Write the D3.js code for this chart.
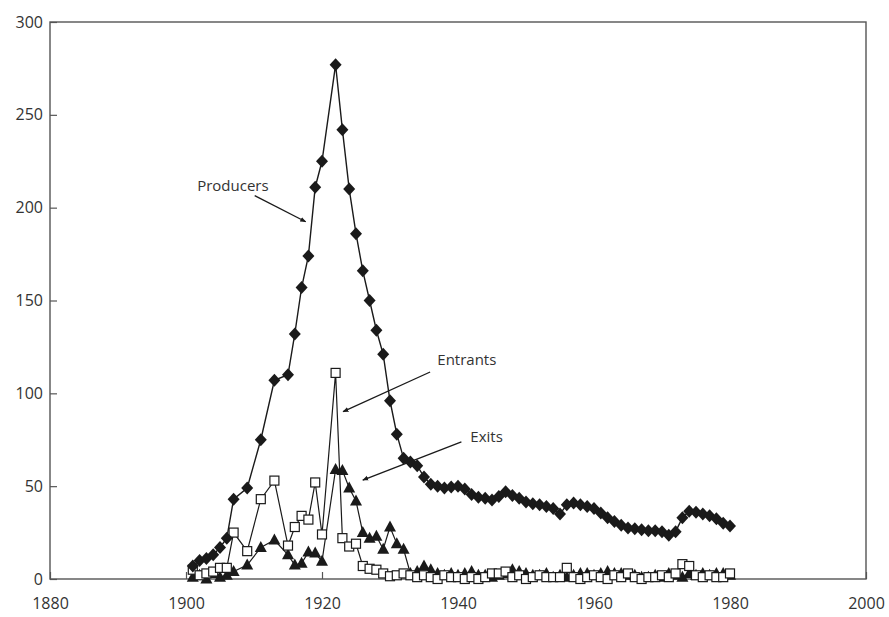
<!DOCTYPE html>
<html><head><meta charset="utf-8">
<script src="https://cdn.jsdelivr.net/npm/d3@7"></script>
<style>
body{margin:0;background:#fff}
text{font-family:"Open Sans",Lato,sans-serif;fill:#333}
</style>
</head><body>
<svg id="c" width="889" height="617"></svg>
<script>
// ---- data ----
const years = [1901,1902,1903,1904,1905,1906,1907,1909,1911,1913,1915,1916,1917,1918,1919,1920,
  1922,1923,1924,1925,1926,1927,1928,1929,1930,1931,1932,1933,1934,1935,1936,1937,1938,1939,1940,
  1941,1942,1943,1944,1945,1946,1947,1948,1949,1950,1951,1952,1953,1954,1955,1956,1957,1958,1959,1960,
  1961,1962,1963,1964,1965,1966,1967,1968,1969,1970,1971,1972,1973,1974,1975,1976,1977,1978,1979,1980];
const producers = [7,10,11,13,17,22,43,49,75,107,110,132,157,174,211,225,
  277,242,210,186,166,150,134,121,96,78,65,63,61,55,51,50,49,49.5,50,
  48.5,45.5,44,43.5,42.5,44.5,47,45,43.5,41.5,40.5,40,39,38,35,40,41,40,39,38,
  35.5,33,31,29,27.5,27,26.5,26,26,25.5,23.5,25.5,33,36.5,36,35,34,32.5,30,28.5];
const entrants = [5,2,3,4,6,6,25,15,43,53,18,28,34,32,52,24,
  111,22,17.5,19,7,5.5,5,3,1.5,2,3,2,1,2,1,0,2,1,1,
  0,1,0,1,3,3,4,1,2,0,1,2,1,1,1,6,1,0,1,2,
  1,0,2,1,3,1,0,1,1,2,1,3,8,7,2,1,2,1,1,3];
const exits = [1,2,0,3,1,2,4,7.5,17,21,13,7.5,8.5,14.5,14,9.5,
  59,58.5,49,42,25,22,23,16,28,19,16,3,4,7,5,3,2,3,2,
  3,4,2,2,1,2,3,5,4,3,2,2,3,1,2,1,2,3,3,2,
  3,4,3,3,2,2,1,1,2,1,3,2,1,3,2,3,2,3,3,2];
const xTicks = [1880,1900,1920,1940,1960,1980,2000];
const yTicks = [0,50,100,150,200,250,300];
// annotation labels: text anchor (year,value), arrow from (year,value) to (year,value)
const noteLabels = ["Producers","Entrants","Exits"];
const noteText   = [[1906.9,212],[1941.3,118],[1944.2,76.5]];
const noteFrom   = [[1910.1,206.5],[1935.9,111.5],[1940.5,73.9]];
const noteTo     = [[1917.6,192.4],[1923.1,90.1],[1926.0,53.3]];

// ---- drawing ----
const svg = d3.select("#c");
const L=50, R=866, T=22, B=579;
const x = d3.scaleLinear().domain([1880,2000]).range([L,R]);
const y = d3.scaleLinear().domain([0,300]).range([B,T]);
const ink = "#1a1a1a";

const rows = years.map((yr,i)=>({yr, p:producers[i], e:entrants[i], x:exits[i]}));

// axes
const gy = svg.append("g").attr("transform",`translate(${L},0)`)
  .call(d3.axisLeft(y).tickValues(yTicks).tickSizeInner(-7).tickSizeOuter(0).tickPadding(7));
const gx = svg.append("g").attr("transform",`translate(0,${B})`)
  .call(d3.axisBottom(x).tickValues(xTicks).tickFormat(d3.format("d")).tickSizeInner(-7).tickSizeOuter(0).tickPadding(19));
[gx,gy].forEach(g=>{
  g.select(".domain").remove();
  g.selectAll(".tick line").attr("stroke","#555").attr("stroke-width",1.2);
  g.selectAll(".tick text").style("font-size","16px").attr("fill","#333");
});

svg.append("rect").attr("x",L).attr("y",T).attr("width",R-L).attr("height",B-T)
  .attr("fill","none").attr("stroke","#555").attr("stroke-width",1.4);

const line = key => d3.line().x(d=>x(d.yr)).y(d=>y(d[key]));

// exits
svg.append("path").datum(rows).attr("d",line("x")).attr("fill","none").attr("stroke",ink).attr("stroke-width",1.2);
svg.append("g").selectAll("path").data(rows).join("path")
  .attr("d",d=>{const cx=x(d.yr), cy=y(d.x); return `M${cx},${cy-6.5}L${cx+6},${cy+4.5}L${cx-6},${cy+4.5}Z`;})
  .attr("fill",ink);

// entrants
svg.append("path").datum(rows).attr("d",line("e")).attr("fill","none").attr("stroke",ink).attr("stroke-width",1.2);
svg.append("g").selectAll("rect").data(rows).join("rect")
  .attr("x",d=>x(d.yr)-4.5).attr("y",d=>y(d.e)-4.5).attr("width",9).attr("height",9)
  .attr("fill","#fff").attr("stroke",ink).attr("stroke-width",1.2);

// producers
svg.append("path").datum(rows).attr("d",line("p")).attr("fill","none").attr("stroke",ink).attr("stroke-width",1.4);
svg.append("g").selectAll("path").data(rows).join("path")
  .attr("d",d=>{const cx=x(d.yr), cy=y(d.p); return `M${cx},${cy-6.5}L${cx+6},${cy}L${cx},${cy+6.5}L${cx-6},${cy}Z`;})
  .attr("fill",ink);

// annotations
svg.append("defs").append("marker").attr("id","ah").attr("viewBox","0 0 10 10").attr("refX",9).attr("refY",5)
  .attr("markerWidth",6).attr("markerHeight",6).attr("orient","auto").attr("markerUnits","userSpaceOnUse")
  .append("path").attr("d","M0,1L10,5L0,9Z").attr("fill",ink);

svg.append("g").selectAll("text").data(noteLabels).join("text")
  .attr("x",(d,i)=>x(noteText[i][0])).attr("y",(d,i)=>y(noteText[i][1]))
  .attr("text-anchor","middle").attr("dy","0.35em").style("font-size","15px").text(d=>d);
svg.append("g").selectAll("line").data(noteLabels).join("line")
  .attr("x1",(d,i)=>x(noteFrom[i][0])).attr("y1",(d,i)=>y(noteFrom[i][1]))
  .attr("x2",(d,i)=>x(noteTo[i][0])).attr("y2",(d,i)=>y(noteTo[i][1]))
  .attr("stroke",ink).attr("stroke-width",1.3).attr("marker-end","url(#ah)");
</script>
</body></html>
